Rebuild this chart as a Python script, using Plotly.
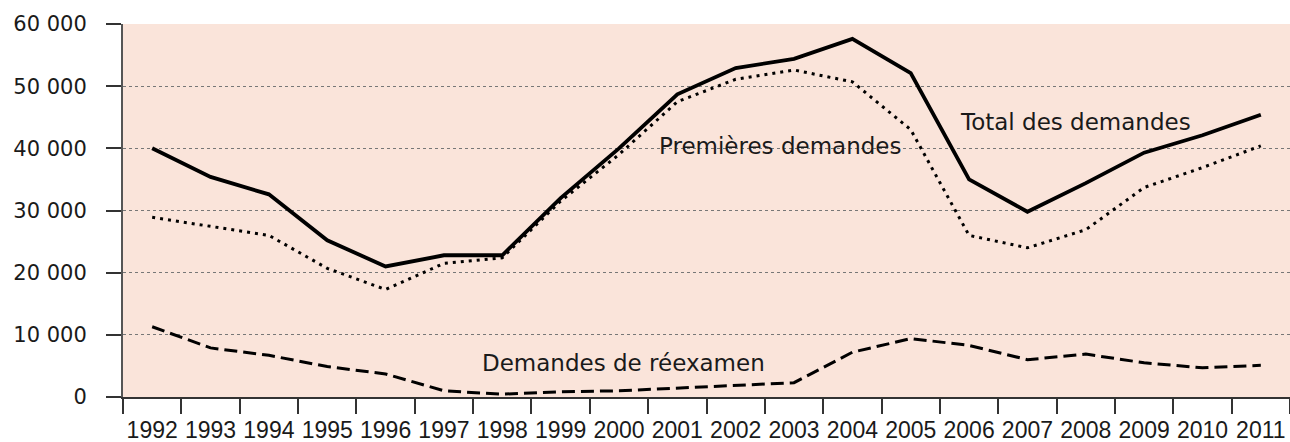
import plotly.graph_objects as go

years = [str(y) for y in range(1992, 2012)]
total = [40000, 35400, 32600, 25200, 21000, 22800, 22800, 32000, 40000, 48700,
         52900, 54400, 57600, 52100, 35000, 29800, 34400, 39300, 42100, 45400]
premieres = [28900, 27500, 26000, 20700, 17300, 21500, 22400, 31500, 39000, 47500,
             51100, 52600, 50700, 43000, 26000, 24000, 26900, 33700, 36900, 40400]
reexamen = [11300, 7900, 6700, 4900, 3700, 1000, 450, 850, 1000, 1400,
            1800, 2300, 7200, 9400, 8300, 6000, 6900, 5500, 4700, 5100]
y_ticks = [0, 10000, 20000, 30000, 40000, 50000, 60000]
y_tick_labels = ["0", "10 000", "20 000", "30 000", "40 000", "50 000", "60 000"]

FONT = "DejaVu Sans"
XFONT = "Liberation Sans"
TXT = "#1a1a1a"

fig = go.Figure()
fig.add_trace(go.Scatter(x=years, y=premieres, mode="lines",
                         line=dict(color="black", width=3, dash="3px,5px"),
                         name="Premières demandes"))
fig.add_trace(go.Scatter(x=years, y=reexamen, mode="lines",
                         line=dict(color="black", width=3, dash="13px,6px"),
                         name="Demandes de réexamen"))
fig.add_trace(go.Scatter(x=years, y=total, mode="lines",
                         line=dict(color="black", width=3.8),
                         name="Total des demandes"))

ann_font = dict(family=FONT, size=23, color=TXT)
fig.add_annotation(x=13.81, y=44300, text="Total des demandes", showarrow=False,
                   xanchor="left", yanchor="middle", font=ann_font)
fig.add_annotation(x=8.65, y=40350, text="Premières demandes", showarrow=False,
                   xanchor="left", yanchor="middle", font=ann_font)
fig.add_annotation(x=5.62, y=5400, text="Demandes de réexamen", showarrow=False,
                   xanchor="left", yanchor="middle", font=ann_font)

fig.update_layout(
    width=1290, height=442,
    margin=dict(l=123, r=0, t=24, b=45, autoexpand=False),
    paper_bgcolor="white",
    plot_bgcolor="#fae4da",
    showlegend=False,
    font=dict(family=FONT, size=21, color=TXT),
)
fig.update_xaxes(
    type="category", range=[-0.5, 19.5],
    tickson="boundaries", ticks="outside", ticklen=15, tickwidth=1.5, tickcolor="#333333",
    showline=True, linecolor="#333333", linewidth=2,
    showgrid=False, tickfont=dict(family=XFONT, size=23, color=TXT),
    tickangle=0, ticklabelstandoff=11,
)
fig.update_yaxes(
    range=[0, 60000], tickvals=y_ticks, ticktext=y_tick_labels,
    ticks="outside", ticklen=15, tickwidth=1.5, tickcolor="#333333",
    showline=True, linecolor="#555555", linewidth=2,
    showgrid=True, gridcolor="#777777", gridwidth=1, griddash="dot",
    zeroline=False, tickfont=dict(family=FONT, size=21, color=TXT),
    ticklabelstandoff=15,
)

fig.write_html("out.html", config={"displayModeBar": False},
               post_script="document.body.style.margin='0';document.body.style.overflow='hidden';")
